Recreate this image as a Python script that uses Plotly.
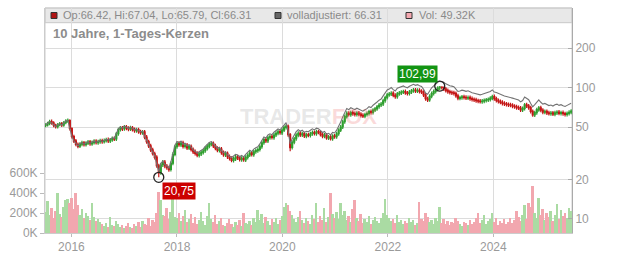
import math
import pandas as pd
import plotly.graph_objects as go

# ---------------- data ----------------
dates = pd.date_range("2015-07-06", periods=261, freq="14D")

opens = [
 51.4,52.1,53.4,55.3,54.1,51.7,50.5,52.4,53.2,51.9,
 54.3,55.7,56.3,48.8,42.4,39.3,37.1,35.9,37.1,38.1,
 36.8,37.9,38.7,37.4,38.2,39.2,38.1,38.8,39.6,38.9,
 39.5,40.3,39.3,40.1,41.1,40.7,44.6,48.1,49.4,48.7,
 50.4,49.1,48.5,49.5,48.1,47.0,47.9,46.3,45.4,46.1,
 42.1,38.9,36.1,33.7,31.4,29.6,25.4,22.5,25.9,27.1,
 25.3,24.5,23.9,26.6,31.1,35.6,37.7,36.7,38.0,35.7,
 36.6,34.7,35.7,33.9,32.6,31.7,30.5,31.3,32.1,33.1,
 34.4,35.9,37.1,37.7,36.1,34.7,33.3,34.1,32.1,30.8,
 31.6,29.9,29.0,27.9,28.7,29.7,29.3,28.3,29.1,28.2,
 29.4,30.7,31.9,30.9,32.6,33.1,33.9,35.6,38.1,40.3,
 39.3,41.7,42.6,41.7,43.7,45.1,46.3,45.3,47.6,49.9,
 50.9,43.9,35.1,38.5,40.9,43.6,45.1,43.7,44.7,42.8,
 43.9,43.3,44.6,45.7,44.7,46.3,45.9,44.1,42.7,43.7,
 41.4,42.3,40.9,42.9,42.3,44.7,47.6,50.3,55.1,60.3,
 63.9,62.4,64.7,63.5,62.5,64.1,62.9,61.7,60.7,62.5,
 63.7,65.9,64.8,67.6,69.1,71.6,73.9,75.3,79.6,84.1,
 88.3,89.6,90.9,87.5,85.5,89.9,91.3,92.7,93.5,91.4,
 90.5,92.9,94.7,96.1,94.3,95.7,93.9,92.5,88.1,82.4,
 80.9,86.1,90.5,93.7,96.9,99.6,101.3,100.5,98.1,95.3,
 93.3,92.1,91.5,90.6,86.9,83.1,83.9,85.3,84.5,83.4,
 84.3,82.7,81.5,80.9,79.7,79.1,78.3,79.1,80.0,80.7,
 81.4,83.1,85.7,82.5,80.1,78.7,77.5,76.1,75.3,74.6,
 74.1,73.7,72.5,71.7,70.7,70.1,67.7,69.6,74.1,72.7,
 70.5,66.1,62.1,64.5,67.9,70.3,67.5,65.1,66.1,64.5,
 63.5,64.3,62.9,64.4,65.3,63.7,64.7,63.5,62.5,63.7,
 65.1]

highs = [
 53.6,55.0,57.0,57.2,55.6,53.2,53.9,54.9,54.7,55.8,
 57.6,58.3,57.6,50.1,43.8,40.6,38.3,38.5,39.4,39.3,
 39.1,39.9,39.9,39.6,40.5,40.5,40.2,40.9,40.9,41.0,
 41.6,41.7,41.4,42.5,42.5,46.0,49.6,51.2,51.1,52.1,
 52.1,50.8,51.3,51.2,49.8,49.5,49.5,47.9,47.6,47.6,
 43.6,40.2,37.4,34.9,32.5,30.6,26.4,26.8,28.1,28.1,
 26.2,25.4,27.5,32.2,36.8,39.0,39.1,39.3,39.4,37.8,
 37.9,36.9,37.0,35.1,33.8,32.8,32.5,33.4,34.2,35.8,
 37.1,38.4,39.0,39.0,37.4,35.9,35.2,35.3,33.2,32.6,
 32.7,31.0,30.0,29.8,30.7,30.8,30.3,30.0,30.1,30.6,
 31.7,32.9,33.0,33.6,34.4,35.0,36.8,39.4,41.6,41.7,
 43.1,44.0,44.1,45.1,46.6,47.8,47.9,49.2,51.5,52.8,
 52.4,45.2,39.8,42.2,45.0,46.6,46.6,46.2,46.1,45.3,
 45.4,46.1,47.2,47.3,47.8,47.9,47.4,45.6,45.1,45.2,
 43.7,43.8,44.3,44.4,46.2,49.2,52.0,57.0,62.4,66.1,
 66.2,66.9,67.0,65.8,66.3,66.4,65.1,63.9,64.6,65.9,
 68.1,68.2,69.9,71.4,74.0,76.4,77.8,82.3,86.9,91.3,
 92.6,94.0,94.1,90.6,92.9,94.4,95.8,96.7,96.8,94.6,
 96.0,97.9,99.4,99.5,98.9,99.0,97.2,95.7,91.2,85.3,
 89.0,93.6,96.9,100.2,102.5,102.99,102.6,102.4,101.5,98.6,
 96.6,95.3,94.7,93.8,89.9,86.9,88.2,88.3,87.5,87.1,
 87.2,85.6,84.4,83.7,82.5,81.9,82.0,82.9,83.6,84.4,
 86.1,88.6,88.7,85.4,82.9,81.5,80.2,78.8,77.9,77.2,
 76.7,76.3,75.0,74.2,73.2,72.5,71.9,76.6,76.7,75.2,
 73.0,68.4,66.9,70.4,72.7,72.8,69.9,68.3,68.4,66.8,
 66.5,66.6,66.8,67.5,67.6,66.9,67.0,65.7,66.0,67.3,
 68.6]

lows = [
 49.9,50.6,51.8,52.3,50.0,48.9,49.0,50.8,50.3,50.4,
 52.6,54.0,47.2,41.0,37.9,35.8,34.6,34.7,35.9,35.6,
 35.6,36.6,36.2,36.1,36.9,36.9,36.8,37.5,37.5,37.6,
 38.2,38.0,37.9,38.8,39.2,39.3,43.0,46.4,46.9,47.0,
 47.5,46.7,46.8,46.3,45.4,45.3,44.6,43.9,43.8,40.5,
 37.4,34.7,32.4,30.4,28.4,24.6,20.75,21.7,24.9,24.4,
 23.7,22.9,23.0,25.7,30.0,34.3,35.5,35.4,34.5,34.4,
 33.6,33.5,32.6,31.3,30.5,29.5,29.4,30.2,31.0,31.9,
 33.2,34.6,35.8,34.7,33.4,32.2,32.1,30.9,29.8,29.7,
 28.7,27.9,27.0,26.9,27.7,28.2,27.4,27.3,27.3,27.2,
 28.4,29.6,29.9,29.8,31.4,31.9,32.7,34.3,36.8,38.0,
 37.9,40.2,40.3,40.2,42.1,43.5,43.8,43.7,45.9,48.1,
 42.4,32.8,33.8,37.1,39.4,42.0,42.2,42.1,41.4,41.3,
 41.9,41.8,43.0,43.2,43.1,44.2,42.5,41.3,41.2,40.1,
 40.0,39.6,39.5,40.9,40.8,43.1,45.9,48.5,53.2,58.2,
 60.3,60.2,61.2,60.4,60.3,60.6,59.4,58.7,58.6,60.3,
 61.5,62.6,62.5,65.2,66.7,69.1,71.3,72.7,76.8,81.2,
 85.2,86.5,84.5,82.4,82.5,86.8,88.1,89.5,88.3,87.2,
 87.3,89.7,91.4,91.1,91.0,90.5,89.4,84.9,79.6,78.0,
 78.1,83.1,87.3,90.4,93.5,96.1,96.9,94.6,91.9,90.0,
 88.8,88.2,87.3,83.8,80.3,80.2,81.0,81.5,80.6,80.5,
 79.7,78.6,78.0,76.8,76.2,75.7,75.6,76.3,77.2,77.9,
 78.6,80.2,79.5,77.2,75.9,74.7,73.3,72.6,71.9,71.4,
 71.0,69.9,69.1,68.1,67.6,65.4,65.3,67.2,70.1,67.9,
 63.7,60.0,59.9,62.2,65.5,65.0,62.9,62.8,62.1,61.4,
 61.3,60.8,60.7,62.1,61.6,61.5,61.2,60.4,60.3,61.5,
 62.9]

closes = [
 52.0,53.5,55.2,54.0,51.8,50.6,52.3,53.1,52.0,54.2,
 55.8,56.4,49.0,42.5,39.2,37.0,35.8,37.2,38.0,36.9,
 37.8,38.6,37.5,38.3,39.1,38.2,38.9,39.5,38.8,39.6,
 40.2,39.4,40.0,41.0,40.6,44.5,48.0,49.5,48.6,50.3,
 49.2,48.4,49.6,48.0,47.1,47.8,46.2,45.5,46.0,42.0,
 38.8,36.0,33.6,31.5,29.5,25.5,22.4,25.8,27.0,25.4,
 24.6,23.8,26.5,31.0,35.5,37.6,36.8,37.9,35.8,36.5,
 34.8,35.6,33.8,32.5,31.6,30.6,31.4,32.2,33.0,34.5,
 35.8,37.0,37.6,36.0,34.6,33.4,34.0,32.0,30.9,31.5,
 29.8,28.9,28.0,28.8,29.6,29.2,28.4,29.0,28.3,29.5,
 30.6,31.8,31.0,32.5,33.2,33.8,35.5,38.0,40.2,39.4,
 41.6,42.5,41.8,43.6,45.0,46.2,45.4,47.5,49.8,51.0,
 44.0,35.0,38.4,40.8,43.5,45.0,43.8,44.6,42.9,43.8,
 43.4,44.5,45.6,44.8,46.2,45.8,44.0,42.8,43.6,41.5,
 42.2,41.0,42.8,42.4,44.6,47.5,50.2,55.0,60.2,63.8,
 62.5,64.6,63.4,62.6,64.0,62.8,61.6,60.8,62.4,63.6,
 65.8,64.9,67.5,69.0,71.5,73.8,75.2,79.5,84.0,88.2,
 89.5,90.8,87.6,85.4,89.8,91.2,92.6,93.4,91.5,90.4,
 92.8,94.6,96.0,94.4,95.6,93.8,92.6,88.0,82.5,80.8,
 86.0,90.4,93.6,96.8,99.5,101.2,100.4,98.0,95.2,93.2,
 92.0,91.4,90.5,86.8,83.2,84.0,85.2,84.4,83.5,84.2,
 82.6,81.4,80.8,79.6,79.0,78.4,79.2,80.1,80.8,81.5,
 83.2,85.6,82.4,80.0,78.6,77.4,76.0,75.2,74.5,74.0,
 73.6,72.4,71.6,70.6,70.0,67.8,69.5,74.0,72.6,70.4,
 66.0,62.2,64.6,68.0,70.2,67.4,65.2,66.0,64.4,63.6,
 64.2,63.0,64.5,65.2,63.8,64.6,63.4,62.6,63.8,65.0,
 66.31]

adjusted = [
 52.0,53.5,55.2,54.0,51.8,50.6,52.3,53.1,52.0,54.2,
 55.8,56.4,49.0,42.7,39.4,37.2,36.0,37.4,38.2,37.1,
 38.0,38.8,37.7,38.5,39.3,38.4,39.1,39.7,39.0,39.8,
 40.4,40.0,40.6,41.6,41.2,45.2,48.7,50.2,49.3,51.1,
 49.9,49.1,50.3,48.7,47.8,48.5,46.9,46.2,46.7,42.6,
 39.4,36.9,34.4,32.3,30.2,26.1,23.0,26.4,27.7,26.0,
 25.2,24.4,27.2,31.8,36.4,38.9,38.1,39.2,37.1,37.8,
 36.0,36.8,35.0,33.6,32.7,31.7,32.5,33.3,34.2,35.7,
 37.1,38.3,38.9,37.3,35.8,34.6,35.2,33.1,32.0,32.6,
 30.8,30.3,29.4,30.2,31.1,30.7,29.8,30.5,29.7,31.0,
 32.1,33.4,32.6,34.1,34.9,35.5,37.3,39.9,42.2,41.4,
 43.7,44.6,43.9,45.8,47.3,48.5,47.7,49.9,53.0,54.3,
 46.9,37.3,40.9,43.5,46.3,47.9,46.6,47.5,45.7,46.6,
 46.2,47.4,48.6,47.7,49.2,48.8,46.9,45.6,46.4,44.2,
 44.9,43.7,45.6,45.2,47.5,50.6,54.7,60.0,65.6,69.5,
 68.1,70.4,69.1,68.2,69.8,68.5,67.1,66.3,68.0,69.3,
 71.7,70.7,73.6,75.2,77.9,80.4,82.0,86.7,91.6,96.1,
 97.6,100.3,96.8,94.4,99.2,100.8,102.3,103.2,101.1,99.9,
 102.5,104.5,106.1,104.3,105.6,103.6,102.3,97.2,91.2,89.3,
 95.0,99.9,103.4,107.0,109.9,111.8,110.9,110.3,107.1,104.9,
 103.5,102.8,101.8,97.7,93.6,94.5,95.9,95.0,93.9,94.7,
 92.9,91.6,90.9,89.6,88.9,88.2,89.1,90.1,90.9,91.7,
 93.6,96.3,92.7,92.0,90.4,89.0,87.4,86.5,85.7,85.1,
 84.6,83.3,82.3,81.2,80.5,78.0,79.9,85.1,83.5,81.0,
 75.9,71.5,74.3,78.2,80.7,77.5,75.0,75.9,74.1,73.1,
 73.8,72.5,74.2,75.0,73.4,74.3,72.9,72.0,73.4,74.8,
 76.3]

volumes_k = [
 210,320,180,250,150,220,400,190,160,260,
 330,340,300,350,240,400,280,180,240,150,
 200,170,130,300,160,120,140,110,
 90,70,100,60,160,80,70,120,90,60,
 80,50,70,100,60,50,90,70,110,60,
 120,90,80,150,70,130,110,200,
 410,330,180,170,250,140,210,410,160,
 150,200,120,170,230,110,140,190,100,160,
 90,130,210,120,80,170,300,140,110,180,
 90,120,150,80,70,100,140,90,60,110,
 80,130,70,200,100,90,
 120,80,150,110,230,130,190,100,160,120,
 80,140,110,150,90,130,170,260,300,280,
 220,180,140,110,160,220,130,100,150,120,
 90,180,140,300,110,170,130,250,110,160,
 400,190,150,210,140,
 300,180,220,130,170,110,240,330,150,120,
 190,100,140,110,170,90,130,160,120,100,
 150,200,340,180,150,120,140,100,180,110,
 130,90,120,100,150,110,130,80,100,310,
 140,120,200,160,110,130,90,150,120,260,
 100,140,90,120,80,110,100,150,120,90,
 70,110,100,80,130,
 90,110,150,200,100,130,180,90,120,140,
 200,110,150,80,120,100,140,90,110,150,
 100,130,220,160,120,
 180,280,140,300,260,470,200,150,350,180,
 240,130,200,160,220,120,180,290,140,230,
 170,200,150,250,220]

year_ticks = ["2016-01-01", "2018-01-01", "2020-01-01", "2022-01-01", "2024-01-01"]
year_labels = ["2016", "2018", "2020", "2022", "2024"]
price_ticks = [10, 20, 50, 100, 200]
vol_ticks = [0, 200000, 400000, 600000]
vol_labels = ["0K", "200K", "400K", "600K"]

header_ohlc = "Op:66.42, Hi:67.04, Lo:65.79, Cl:66.31"
header_adj = "volladjustiert: 66.31"
header_vol = "Vol: 49.32K"
title_text = "10 Jahre, 1-Tages-Kerzen"

n = len(dates)
assert all(len(a) == n for a in (opens, highs, lows, closes, adjusted, volumes_k)), [len(a) for a in (opens, highs, lows, closes, adjusted, volumes_k)]

# ---------------- figure ----------------
FONT = "Liberation Sans, Arial, sans-serif"
GREEN = "#2e9e2e"
RED = "#c41616"
VOL_GREEN = "#aadba3"
VOL_RED = "#f2a7af"

fig = go.Figure()

vol_colors = [VOL_GREEN if c >= o else VOL_RED for o, c in zip(opens, closes)]
fig.add_trace(go.Bar(
    x=dates, y=[v * 1000 for v in volumes_k], yaxis="y",
    marker=dict(color=vol_colors, line=dict(width=0)),
    width=14 * 86400000 * 0.95, hoverinfo="skip"))

fig.add_trace(go.Scatter(
    x=dates, y=adjusted, yaxis="y2", mode="lines",
    line=dict(color="#737373", width=1.1), hoverinfo="skip"))

fig.add_trace(go.Candlestick(
    x=dates, open=opens, high=highs, low=lows, close=closes, yaxis="y2",
    increasing=dict(line=dict(color=GREEN, width=1.2), fillcolor=GREEN),
    decreasing=dict(line=dict(color=RED, width=1.2), fillcolor=RED),
    whiskerwidth=0, hoverinfo="skip"))

imax = highs.index(max(highs))
imin = lows.index(min(lows))
fig.add_trace(go.Scatter(
    x=[dates[imax], dates[imin]], y=[highs[imax], lows[imin]], yaxis="y2",
    mode="markers",
    marker=dict(symbol="circle-open", size=10, color="#222", line=dict(width=1.3)),
    hoverinfo="skip"))

def fmt(v):
    return f"{v:.2f}".replace(".", ",")

annotations = [
    dict(x=dates[imax], y=math.log10(highs[imax]), xref="x", yref="y2",
         text=fmt(highs[imax]), showarrow=False, xanchor="right", yanchor="bottom",
         xshift=-2, yshift=3, bgcolor="#139413", borderpad=1,
         font=dict(family=FONT, size=12, color="white")),
    dict(x=dates[imin], y=math.log10(lows[imin]), xref="x", yref="y2",
         text=fmt(lows[imin]), showarrow=False, xanchor="left", yanchor="top",
         xshift=3, yshift=-5, bgcolor="#cc0000", borderpad=1,
         font=dict(family=FONT, size=12, color="white")),
]

PL, PR, PT, PB = 45, 572, 8, 233
def px(x):
    return (x - PL) / (PR - PL)
def py(y):
    return (PB - y) / (PB - PT)

hdr_y = py(15.3)
annotations += [
    dict(x=px(61), y=hdr_y, xref="paper", yref="paper", text=header_ohlc,
         showarrow=False, xanchor="left", yanchor="middle",
         font=dict(family=FONT, size=11, color="#8a8a8a")),
    dict(x=px(285), y=hdr_y, xref="paper", yref="paper", text=header_adj,
         showarrow=False, xanchor="left", yanchor="middle",
         font=dict(family=FONT, size=11, color="#8a8a8a")),
    dict(x=px(417), y=hdr_y, xref="paper", yref="paper", text=header_vol,
         showarrow=False, xanchor="left", yanchor="middle",
         font=dict(family=FONT, size=11, color="#8a8a8a")),
    dict(x=px(51), y=py(33), xref="paper", yref="paper", text="<b>" + title_text + "</b>",
         showarrow=False, xanchor="left", yanchor="middle",
         font=dict(family=FONT, size=13, color="#8c8c8c")),
    dict(x=px(308), y=py(116), xref="paper", yref="paper",
         text="<b><span style='color:rgba(175,175,175,0.30)'>TRADER</span>"
              "<span style='color:rgba(235,90,90,0.22)'>FOX</span></b>",
         showarrow=False, xanchor="center", yanchor="middle",
         font=dict(family=FONT, size=22)),
]

shapes = [
    dict(type="rect", xref="paper", yref="paper", x0=0, x1=1, y0=py(22.7), y1=1,
         fillcolor="#e8e8e8", line=dict(color="#c8c8c8", width=1), layer="below"),
    dict(type="rect", xref="paper", yref="paper", x0=0, x1=1, y0=0, y1=1,
         fillcolor="rgba(0,0,0,0)", line=dict(color="#cccccc", width=1), layer="below"),
]
for x0, color in ((51, "#b01414"), (275, "#666666"), (406, "#f4a8b0")):
    shapes.append(dict(type="rect", xref="paper", yref="paper",
                       x0=px(x0), x1=px(x0 + 6), y0=py(18.5), y1=py(12.5),
                       fillcolor=color, line=dict(color="#333333", width=1), layer="above"))

tick_font = dict(family=FONT, size=12, color="#9a9a9a")
fig.update_layout(
    width=632, height=253,
    margin=dict(l=PL, r=632 - PR, t=PT, b=253 - PB, autoexpand=False),
    paper_bgcolor="white", plot_bgcolor="rgba(0,0,0,0)",
    showlegend=False, bargap=0, hovermode=False,
    xaxis=dict(type="date", range=["2015-07-02", "2025-06-29"],
               tickvals=year_ticks, ticktext=year_labels,
               showgrid=True, gridcolor="#dcdcdc", gridwidth=1,
               ticks="outside", ticklen=3, tickcolor="#bbbbbb",
               showline=True, linecolor="#cccccc", tickfont=tick_font,
               rangeslider=dict(visible=False), fixedrange=True, automargin=False),
    yaxis=dict(range=[0, 2250000], tickvals=vol_ticks, ticktext=vol_labels,
               side="left", showgrid=False, zeroline=False,
               ticks="outside", ticklen=4, tickcolor="#bbbbbb",
               showline=True, linecolor="#cccccc", tickfont=tick_font,
               fixedrange=True, automargin=False),
    yaxis2=dict(type="log", range=[math.log10(7.82), math.log10(405)],
                overlaying="y", side="right",
                tickvals=price_ticks, ticktext=[str(t) for t in price_ticks],
                showgrid=True, gridcolor="#dcdcdc", gridwidth=1, zeroline=False,
                ticks="inside", ticklen=4, tickcolor="#aaaaaa",
                showline=True, linecolor="#aaaaaa", tickfont=tick_font,
                fixedrange=True, automargin=False),
    annotations=annotations,
    shapes=shapes,
)

fig.write_html("out.html", config={"displayModeBar": False})
